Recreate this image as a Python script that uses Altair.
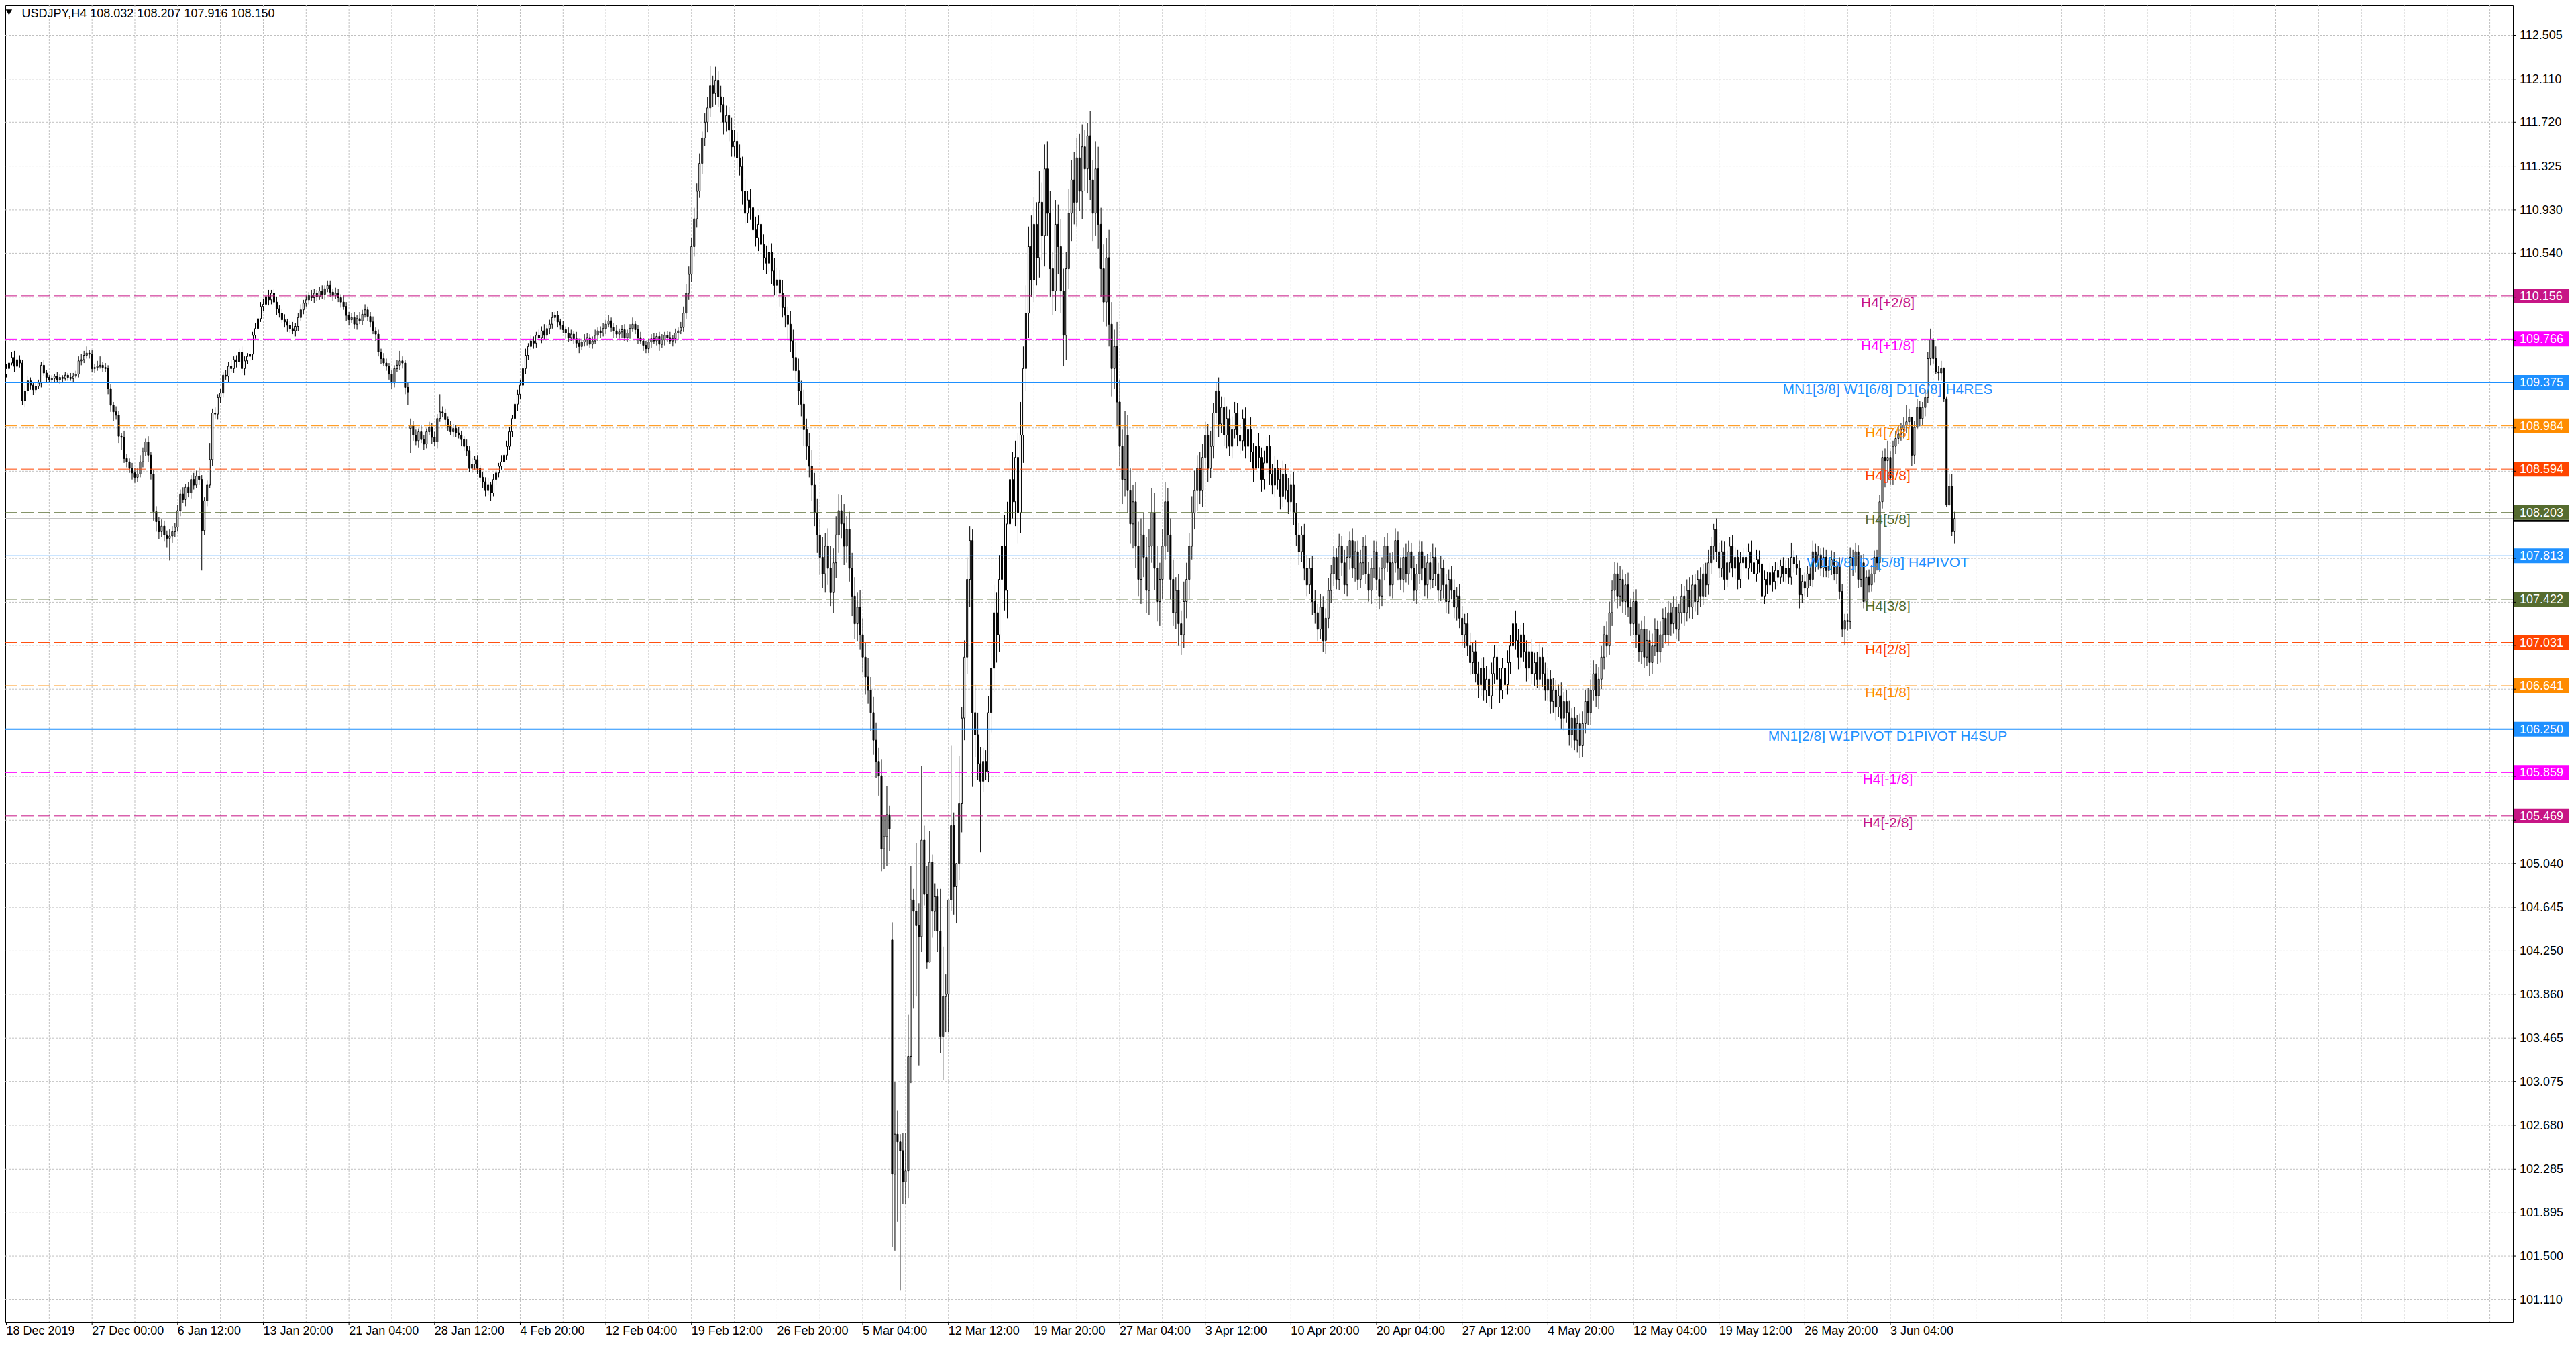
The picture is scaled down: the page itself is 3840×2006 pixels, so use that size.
import altair as alt
import pandas as pd

# ---------------- data (prices in hundredths above 100.00) ----------------
first_open = 945
closes = [
950, 955, 960, 952, 958, 955, 921, 930, 939, 935, 931, 934, 937, 953, 946, 942,
940, 941, 943, 940, 942, 941, 944, 942, 941, 943, 945, 957, 958, 962, 964, 963,
950, 951, 952, 953, 951, 950, 932, 917, 911, 908, 889, 888, 869, 866, 860, 856,
852, 855, 866, 875, 884, 872, 855, 821, 812, 803, 808, 800, 797, 799, 803, 807,
822, 837, 832, 843, 838, 850, 845, 853, 850, 804, 831, 845, 868, 910, 909, 924,
928, 944, 943, 952, 950, 958, 956, 965, 950, 957, 961, 963, 980, 986, 995, 1006,
1008, 1015, 1012, 1018, 1010, 1004, 1000, 994, 992, 989, 986, 984, 988, 996, 1003, 1009,
1012, 1016, 1014, 1018, 1015, 1020, 1017, 1022, 1025, 1019, 1016, 1018, 1014, 1010, 1006, 998,
994, 996, 990, 995, 993, 999, 1003, 997, 992, 984, 981, 965, 959, 955, 952, 945,
937, 950, 953, 957, 955, 933, 929, 899, 890, 885, 893, 886, 882, 893, 897, 888,
884, 905, 911, 910, 904, 898, 893, 896, 892, 890, 886, 880, 876, 860, 864, 868,
860, 852, 848, 840, 845, 838, 850, 856, 862, 866, 872, 880, 893, 905, 918, 927,
935, 950, 962, 970, 975, 973, 980, 978, 984, 980, 986, 990, 996, 998, 992, 989,
985, 982, 978, 981, 977, 973, 970, 974, 976, 978, 972, 975, 980, 984, 982, 986,
990, 993, 987, 984, 981, 983, 985, 978, 982, 986, 990, 985, 978, 975, 971, 968,
974, 977, 975, 979, 972, 976, 980, 978, 975, 977, 982, 984, 987, 1000, 1018, 1035,
1060, 1085, 1110, 1135, 1158, 1172, 1185, 1205, 1198, 1210, 1195, 1188, 1172, 1178, 1165, 1150,
1155, 1140, 1132, 1110, 1090, 1102, 1095, 1075, 1068, 1080, 1062, 1050, 1045, 1055, 1038, 1025,
1030, 1018, 1005, 998, 990, 975, 960, 948, 930, 918, 895, 880, 862, 845, 820, 800,
780, 765, 790, 770, 748, 775, 800, 822, 810, 790, 805, 770, 745, 720, 735, 710,
690, 672, 660, 640, 615, 596, 583, 517, 528, 548, 535, 224, 260, 253, 245, 217,
227, 330, 471, 461, 448, 438, 525, 476, 415, 505, 461, 474, 443, 348, 384, 386,
471, 538, 483, 504, 558, 635, 690, 760, 795, 640, 620, 594, 578, 596, 587, 640,
680, 730, 710, 760, 790, 750, 810, 850, 830, 870, 820, 890, 950, 1000, 1060, 1030,
1080, 1050, 1100, 1070, 1130, 1090, 1040, 1020, 1080, 1060, 1020, 980, 1040, 1090, 1120, 1100,
1140, 1110, 1150, 1130, 1160, 1120, 1090, 1130, 1080, 1040, 1010, 1050, 990, 950, 970, 920,
880, 850, 890, 840, 810, 830, 790, 760, 800, 780, 750, 790, 820, 770, 740, 760,
790, 830, 800, 760, 730, 750, 720, 710, 740, 760, 790, 820, 840, 860, 840, 870,
890, 860, 880, 910, 930, 900, 915, 890, 905, 880, 895, 910, 890, 885, 905, 880,
895, 875, 860, 880, 870, 850, 865, 880, 855, 845, 860, 850, 835, 855, 840, 830,
845, 820, 800, 785, 800, 770, 755, 770, 740, 730, 715, 735, 705, 725, 750, 765,
780, 760, 790, 775, 755, 780, 795, 770, 785, 760, 775, 790, 765, 750, 770, 785,
760, 745, 770, 790, 775, 755, 775, 795, 770, 760, 780, 765, 785, 770, 750, 765,
785, 770, 755, 775, 760, 780, 765, 750, 770, 755, 740, 760, 750, 735, 745, 725,
710, 720, 700, 685, 695, 675, 665, 680, 660, 670, 655, 675, 690, 670, 660, 680,
665, 685, 700, 720, 705, 690, 710, 695, 680, 695, 675, 685, 670, 690, 675, 660,
670, 650, 660, 645, 655, 635, 650, 640, 620, 635, 615, 630, 610, 630, 650, 640,
660, 675, 655, 670, 690, 710, 700, 730, 750, 765, 745, 760, 740, 755, 735, 720,
740, 710, 695, 715, 690, 705, 685, 700, 715, 695, 710, 725, 710, 730, 720, 735,
715, 730, 745, 730, 750, 735, 755, 740, 760, 745, 765, 755, 775, 790, 805, 785,
770, 785, 760, 775, 790, 770, 780, 760, 775, 780, 770, 785, 775, 765, 778, 774,
745, 760, 755, 766, 758, 768, 762, 772, 765, 770, 762, 780, 774, 770, 746, 758,
752, 765, 760, 785, 775, 782, 770, 780, 768, 772, 778, 765, 772, 749, 715, 723,
722, 780, 772, 785, 760, 775, 740, 762, 755, 765, 780, 775, 830, 870, 867, 870,
851, 880, 887, 891, 895, 899, 902, 906, 872, 897, 915, 905, 915, 924, 959, 976,
959, 947, 946, 950, 923, 827, 844, 803, 815]

upper_wicks = [
4,3,5,6,3,4,3,5,4,3,2,4,3,3,5,3, 2,3,2,4,3,2,3,2,4,3,3,4,5,4,6,3,
4,3,5,8,3,4,3,4,3,5,4,3,6,4,3,5, 4,5,6,4,3,5,3,4,5,4,6,5,4,6,5,4,
5,4,6,3,5,4,6,5,8,4,3,4,15,4,5,3, 4,3,5,4,6,3,4,3,5,4,3,4,3,5,4,4,
5,4,6,3,4,5,3,4,5,3,4,6,3,4,5,3, 4,3,5,4,3,4,5,3,4,4,3,5,4,3,6,4,
3,4,5,3,6,4,5,3,4,5,3,4,3,5,4,3, 4,3,5,9,4,3,4,6,4,5,3,6,4,3,5,4,
5,4,16,5,4,3,5,4,3,5,4,3,6,4,5,3, 4,3,5,4,6,3,5,4,3,6,4,5,4,3,5,4,
5,4,6,3,5,4,3,5,4,6,3,4,5,3,4,3, 4,3,5,4,3,6,4,3,5,4,3,4,5,3,4,5,
4,5,3,4,5,3,4,5,3,4,6,3,4,5,3,4, 3,4,5,3,4,5,3,4,5,3,4,3,5,6,8,7,
8,10,7,9,6,8,10,18,9,12,8,10,7,9,8,11, 10,8,12,9,11,8,10,9,12,8,10,9,11,10,8,12,
11,9,12,10,8,12,10,14,11,9,13,10,12,15,11,13, 14,18,12,16,20,13,17,15,14,18,12,16,14,17,13,15,
15,13,17,12,14,16,12,15,20,26,8,16,47,21,7,16, 34,38,31,10,61,20,67,13,26,28,7,12,7,38,45,18,
0,72,12,0,43,10,15,20,13,10,25,20,15,12,10,15, 20,25,18,22,15,28,20,18,25,15,22,30,20,25,18,28,
25,20,28,18,22,25,20,15,22,18,25,20,15,22,18,25, 18,22,20,15,11,22,18,25,20,15,22,18,25,20,15,22,
20,15,22,18,20,15,18,22,15,20,18,15,22,18,20,15, 15,18,12,15,18,12,15,12,18,15,12,15,18,12,15,12,
12,10,14,9,8,12,10,9,11,8,12,10,9,11,8,10, 9,11,8,10,12,9,11,8,10,9,11,8,10,12,9,11,
10,12,9,11,8,10,12,9,11,10,8,12,10,9,11,8, 10,8,11,9,12,10,8,11,9,10,12,8,10,11,9,10,
9,11,10,8,12,9,10,11,8,10,9,12,10,8,11,9, 10,9,11,8,10,12,9,10,11,8,10,9,12,10,8,11,
11,9,10,12,8,10,11,9,10,12,9,10,11,8,10,9, 9,11,10,8,12,10,9,11,10,8,11,9,10,12,9,10,
10,8,11,9,10,12,8,10,11,9,10,8,9,11,10,12, 10,12,9,11,10,8,12,10,9,11,10,12,9,10,11,8,
9,11,10,8,12,10,9,11,10,8,12,9,10,11,9,10, 10,8,11,9,10,12,9,10,8,11,9,10,12,8,5,10,
8,10,9,11,8,10,9,7,10,8,9,7,10,8,9,8, 6,8,7,9,6,8,7,6,8,7,9,13,6,8,7,6,
8,7,6,10,7,8,6,9,7,6,8,7,6,8,7,6, 6,9,7,8,6,7,8,6,7,8,6,7,6,6,8,15,
6,5,7,8,6,7,15,8,0,6,8,6,5,7,6,10, 2,11,5,7,1,2,11,11,6]

lower_wicks = [
3,4,2,5,3,4,4,6,3,4,5,3,2,4,3,4, 3,2,3,2,4,3,2,3,2,3,2,3,4,3,3,4,
3,4,3,2,4,3,5,6,8,4,6,11,4,5,4,6, 5,4,3,5,4,6,5,8,9,7,5,6,8,20,6,5,
4,5,3,6,4,5,4,3,5,36,4,5,3,6,4,5, 5,4,3,5,3,4,5,3,4,6,3,4,5,3,4,3,
4,3,5,4,3,6,4,3,5,6,4,3,5,4,3,4, 3,4,3,5,4,3,4,5,3,4,5,3,4,5,3,5,
5,3,4,5,3,4,3,4,5,3,6,4,5,3,4,5, 5,4,3,4,5,6,12,22,5,4,6,3,5,4,3,6,
4,6,3,4,5,4,3,5,4,3,6,4,5,3,4,5, 5,4,6,5,4,7,3,5,4,3,5,4,3,5,4,6,
4,3,5,4,3,5,4,3,5,4,3,5,4,3,5,4, 3,5,4,3,5,4,6,3,4,5,3,4,3,5,4,3,
5,3,4,6,3,4,5,3,4,5,3,4,6,3,5,4, 4,5,3,4,6,3,5,4,3,5,4,6,3,4,5,6,
7,9,8,6,10,7,9,8,12,10,9,7,11,8,10,9, 9,11,8,12,10,9,11,10,8,12,9,11,10,8,12,9,
10,12,9,11,14,10,12,9,13,11,15,12,10,14,12,16, 16,13,17,15,12,18,14,16,13,17,15,12,18,14,16,13,
14,16,12,17,13,15,18,20,18,26,20,66,69,72,126,20, 20,25,24,88,64,116,14,10,6,0,24,18,19,15,39,32,
34,10,25,33,15,26,20,15,25,67,20,15,64,10,8,10, 18,22,25,15,20,18,25,20,15,22,28,18,25,20,22,15,
20,25,18,22,28,20,25,22,18,25,20,28,22,18,25,20, 22,18,25,20,22,18,25,20,22,25,18,22,20,25,18,22,
18,22,15,20,18,22,20,15,22,18,20,22,15,20,18,22, 18,12,15,18,12,15,20,18,12,15,18,12,15,18,12,15,
10,12,9,11,10,12,8,10,12,9,11,8,10,12,9,11, 11,9,12,8,10,11,9,12,10,8,11,9,12,10,8,11,
9,11,10,12,9,11,10,8,12,10,11,9,10,12,9,11, 11,9,10,12,8,10,11,9,12,10,8,11,9,10,12,9,
10,12,9,11,8,10,12,9,11,10,12,8,10,11,9,12, 9,11,10,12,9,8,11,10,9,12,10,11,8,10,12,9,
10,12,9,11,10,8,12,10,9,11,10,12,9,10,11,8, 11,9,10,12,8,11,10,9,12,10,9,11,8,10,12,9,
9,11,10,12,9,10,11,9,10,12,9,11,11,10,9,11, 11,9,10,12,9,11,10,8,12,10,11,9,10,12,9,11,
10,12,9,11,10,8,12,10,9,11,10,12,8,10,11,9, 9,11,10,12,8,10,11,9,12,10,8,11,9,10,12,9,
9,8,10,7,9,8,10,9,8,7,9,10,8,9,7,8, 12,7,8,6,9,7,8,6,7,8,6,7,8,6,12,7,
7,8,6,7,8,6,7,8,6,7,8,6,9,7,7,14, 8,7,9,6,8,7,6,8,7,6,8,7,8,6,24,20,
6,6,7,5,6,8,7,6,10,8,2,7,6,8,5,6, 5,2,7,7,3,2,0,4,11]

gap_opens = {151: 896, 331: 435}

time_labels = ["18 Dec 2019", "27 Dec 00:00", "6 Jan 12:00", "13 Jan 20:00", "21 Jan 04:00",
               "28 Jan 12:00", "4 Feb 20:00", "12 Feb 04:00", "19 Feb 12:00", "26 Feb 20:00",
               "5 Mar 04:00", "12 Mar 12:00", "19 Mar 20:00", "27 Mar 04:00", "3 Apr 12:00",
               "10 Apr 20:00", "20 Apr 04:00", "27 Apr 12:00", "4 May 20:00", "12 May 04:00",
               "19 May 12:00", "26 May 20:00", "3 Jun 04:00"]
bars_per_label = 32
bars_per_grid = 16

price_grid = [112.505, 112.110, 111.720, 111.325, 110.930, 110.540, 110.145, 109.755, 109.360,
              108.965, 108.575, 108.180, 107.790, 107.395, 107.005, 106.610, 106.215, 105.825,
              105.430, 105.040, 104.645, 104.250, 103.860, 103.465, 103.075, 102.680, 102.285,
              101.895, 101.500, 101.110]
price_labels = ["112.505", "112.110", "111.720", "111.325", "110.930", "110.540",
                "105.040", "104.645", "104.250", "103.860", "103.465", "103.075", "102.680",
                "102.285", "101.895", "101.500", "101.110"]

level_prices = [110.156, 109.766, 109.375, 108.984, 108.594, 108.203, 107.813,
                107.422, 107.031, 106.641, 106.250, 105.859, 105.469]
level_names = ["H4[+2/8]", "H4[+1/8]", "MN1[3/8] W1[6/8] D1[6/8] H4RES", "H4[7/8]", "H4[6/8]",
               "H4[5/8]", "W1[5/8] D1[5/8] H4PIVOT", "H4[3/8]", "H4[2/8]", "H4[1/8]",
               "MN1[2/8] W1PIVOT D1PIVOT H4SUP", "H4[-1/8]", "H4[-2/8]"]
level_colors = ["#C71585", "#FF00FF", "#1E90FF", "#FF8C00", "#FF4500", "#556B2F", "#1E90FF",
                "#556B2F", "#FF4500", "#FF8C00", "#1E90FF", "#FF00FF", "#C71585"]
level_style = ["dash", "dash", "solid2", "dash", "dash", "dash", "solid1",
               "dash", "dash", "dash", "solid2", "dash", "dash"]

bid_price = 108.150
header_text = "USDJPY,H4  108.032 108.207 107.916 108.150"

# ---------------- build tables ----------------
rows = []
prev = first_open
for i, c in enumerate(closes):
    o = gap_opens.get(i, prev if i else first_open)
    hi = max(o, c) + upper_wicks[i]
    lo = min(o, c) - lower_wicks[i]
    rows.append({"i": i, "open": 100 + o / 100, "close": 100 + c / 100,
                 "high": 100 + hi / 100, "low": 100 + lo / 100,
                 "fill": "white" if c >= o else "black"})
    prev = c
bars = pd.DataFrame(rows)

W, H = 3738, 1962
BAR_PX = 4.0
x0 = 0.875
xs = alt.Scale(domain=[x0, x0 + W / BAR_PX], nice=False, zero=False)
ys = alt.Scale(domain=[100.9077, 112.7741], nice=False, zero=False)
FONT = "Liberation Sans"

lab_df = pd.DataFrame({"i": [k * bars_per_label for k in range(len(time_labels))],
                       "label": time_labels})
vgrid_df = pd.DataFrame({"i": list(range(bars_per_grid, int(x0 + W / BAR_PX) + 1, bars_per_grid))})
hgrid_df = pd.DataFrame({"p": price_grid})
plab_df = pd.DataFrame({"p": [float(s) for s in price_labels], "label": price_labels})
lev_df = pd.DataFrame({"p": level_prices, "name": level_names, "color": level_colors,
                       "style": level_style, "txt": [f"{v:.3f}" for v in level_prices]})
bid_df = pd.DataFrame({"p": [bid_price], "ref": [level_prices[5]]})
one = pd.DataFrame({"t": [header_text]})

X = alt.X("i:Q", scale=xs, axis=None)

vgrid = alt.Chart(vgrid_df).mark_rule(color="#C0C0C0", strokeWidth=1, strokeDash=[3, 2]).encode(
    x=X, y=alt.value(0), y2=alt.value(H))
hgrid = alt.Chart(hgrid_df).mark_rule(color="#C0C0C0", strokeWidth=1, strokeDash=[3, 2]).encode(
    y=alt.Y("p:Q", scale=ys, axis=None), x=alt.value(0), x2=alt.value(W))
bidline = alt.Chart(bid_df).mark_rule(color="#C0C0C0", strokeWidth=1).encode(
    y=alt.Y("p:Q", scale=ys, axis=None), x=alt.value(0), x2=alt.value(W))

wicks = alt.Chart(bars).mark_rule(color="black", strokeWidth=1).encode(
    x=X, y=alt.Y("low:Q", scale=ys, axis=None), y2="high:Q")
bodies = alt.Chart(bars).mark_bar(width=2, stroke="black", strokeWidth=1).encode(
    x=X, y=alt.Y("open:Q", scale=ys, axis=None), y2="close:Q",
    fill=alt.Fill("fill:N", scale=None))

lev_base = alt.Chart(lev_df)
lev_y = alt.Y("p:Q", scale=ys, axis=None)
lev_dash = lev_base.transform_filter(alt.datum.style == "dash").mark_rule(
    strokeWidth=1, strokeDash=[18, 6]).encode(
    y=lev_y, x=alt.value(0), x2=alt.value(W), color=alt.Color("color:N", scale=None))
lev_solid2 = lev_base.transform_filter(alt.datum.style == "solid2").mark_rule(
    strokeWidth=2).encode(y=lev_y, x=alt.value(0), x2=alt.value(W),
                          color=alt.Color("color:N", scale=None))
lev_solid1 = lev_base.transform_filter(alt.datum.style == "solid1").mark_rule(
    strokeWidth=1).encode(y=lev_y, x=alt.value(0), x2=alt.value(W),
                          color=alt.Color("color:N", scale=None))
lev_text = lev_base.mark_text(font=FONT, fontSize=21, align="center", baseline="alphabetic",
                              dy=17).encode(
    y=lev_y, x=alt.value(2806), text="name:N", color=alt.Color("color:N", scale=None))

bid_edge = alt.Chart(bid_df).mark_rule(color="black", strokeWidth=3, yOffset=12.5).encode(
    y=alt.Y("ref:Q", scale=ys, axis=None), x=alt.value(W + 2), x2=alt.value(W + 83))
lev_box = lev_base.mark_rule(strokeWidth=22, strokeCap="butt").encode(
    y=lev_y, x=alt.value(W + 2), x2=alt.value(W + 83), color=alt.Color("color:N", scale=None))
lev_box_txt = lev_base.mark_text(font=FONT, fontSize=18, align="left", baseline="middle",
                                 dy=1, color="white").encode(
    y=lev_y, x=alt.value(W + 10), text="txt:N")

ytick = alt.Chart(hgrid_df).mark_rule(color="black", strokeWidth=1).encode(
    y=alt.Y("p:Q", scale=ys, axis=None), x=alt.value(W), x2=alt.value(W + 4))
ylab = alt.Chart(plab_df).mark_text(font=FONT, fontSize=18, align="left", baseline="middle",
                                    dy=1, color="black").encode(
    y=alt.Y("p:Q", scale=ys, axis=None), x=alt.value(W + 10), text="label:N")

xtick = alt.Chart(lab_df).mark_rule(color="black", strokeWidth=1).encode(
    x=X, y=alt.value(H), y2=alt.value(H + 4))
xlab = alt.Chart(lab_df).mark_text(font=FONT, fontSize=18, align="left", baseline="alphabetic",
                                   color="black").encode(
    x=X, y=alt.value(H + 19), text="label:N")

tri = alt.Chart(one).mark_point(shape="triangle-down", filled=True, size=90, color="black",
                                opacity=1).encode(x=alt.value(5.4), y=alt.value(10.3))
head = alt.Chart(one).mark_text(font=FONT, fontSize=18, align="left", baseline="alphabetic",
                                color="black").encode(
    x=alt.value(24.6), y=alt.value(18), text="t:N")

chart = alt.layer(
    vgrid, hgrid, bidline, wicks, bodies, lev_dash, lev_solid2, lev_solid1, lev_text,
    bid_edge, lev_box, lev_box_txt, ytick, ylab, xtick, xlab, tri, head
).properties(
    width=W, height=H,
    autosize=alt.AutoSizeParams(type="none"),
    padding={"left": 0, "top": 0, "right": 86, "bottom": 22},
    background="white",
).configure_view(stroke="black", strokeWidth=1, fill="white")

chart.save("out.html", embed_options={"renderer": "svg", "actions": False})
